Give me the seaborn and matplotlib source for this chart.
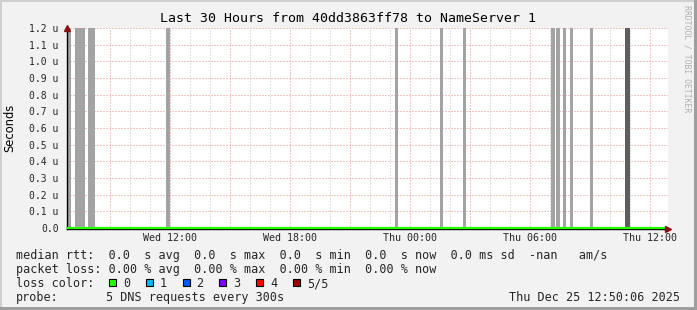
import matplotlib
matplotlib.use("Agg")
import matplotlib.pyplot as plt
import matplotlib.dates as mdates
import matplotlib.ticker as mticker
from matplotlib.patches import Rectangle
import pandas as pd
import seaborn as sns

# ---------------- data ----------------
title = "Last 30 Hours from 40dd3863ff78 to NameServer 1"
y_label = "Seconds"
watermark = "RRDTOOL / TOBI OETIKER"
t_start = "2025-12-24 06:52"
t_end = "2025-12-25 12:52"

gap_starts = ["2025-12-24 06:52", "2025-12-24 07:16", "2025-12-24 07:55",
              "2025-12-24 11:49", "2025-12-24 23:16", "2025-12-25 01:31",
              "2025-12-25 02:40", "2025-12-25 07:04", "2025-12-25 07:19",
              "2025-12-25 07:40", "2025-12-25 08:01", "2025-12-25 09:01",
              "2025-12-25 10:46"]
gap_ends = ["2025-12-24 07:04", "2025-12-24 07:46", "2025-12-24 08:16",
            "2025-12-24 12:01", "2025-12-24 23:25", "2025-12-25 01:40",
            "2025-12-25 02:49", "2025-12-25 07:16", "2025-12-25 07:31",
            "2025-12-25 07:49", "2025-12-25 08:10", "2025-12-25 09:10",
            "2025-12-25 11:01"]
gap_shades = ["light"] * 12 + ["dark"]
gap_top = 1.2e-6

median_times = ["2025-12-24 06:52", "2025-12-25 12:52"]
median_values = [0.0, 0.0]

y_tick_values = [0.0, 0.1e-6, 0.2e-6, 0.3e-6, 0.4e-6, 0.5e-6, 0.6e-6,
                 0.7e-6, 0.8e-6, 0.9e-6, 1.0e-6, 1.1e-6, 1.2e-6]
y_tick_labels = ["0.0", "0.1 u", "0.2 u", "0.3 u", "0.4 u", "0.5 u", "0.6 u",
                 "0.7 u", "0.8 u", "0.9 u", "1.0 u", "1.1 u", "1.2 u"]

x_tick_times = ["2025-12-24 12:00", "2025-12-24 18:00", "2025-12-25 00:00",
                "2025-12-25 06:00", "2025-12-25 12:00"]
x_tick_labels = ["Wed 12:00", "Wed 18:00", "Thu 00:00", "Thu 06:00", "Thu 12:00"]

legend_rtt = "median rtt:  0.0  s avg  0.0  s max  0.0  s min  0.0  s now  0.0 ms sd  -nan   am/s"
legend_loss = "packet loss: 0.00 % avg  0.00 % max  0.00 % min  0.00 % now"
loss_color_title = "loss color:"
loss_labels = ["0", "1", "2", "3", "4", "5/5"]
loss_colors = ["#26ff00", "#00b8ff", "#0059ff", "#7e00ff", "#ff0000", "#a10000"]
probe_title = "probe:"
probe_text = "5 DNS requests every 300s"
timestamp = "Thu Dec 25 12:50:06 2025"

# ---------------- style ----------------
W, H = 697, 310
sns.set_style("white")
MONO = "DejaVu Sans Mono"
plt.rcParams["font.family"] = ["DejaVu Sans"]

BG = "#f2f2f2"
RED_GRID = (0.92, 0.55, 0.55)
GRAY_GRID = (0.76, 0.76, 0.76)
ARROW = "#8a1010"
SHADE = {"light": "#a3a3a3", "dark": "#5e5e5e"}

fig = plt.figure(figsize=(W / 100, H / 100), dpi=100, facecolor=BG)


def fx(x):
    return x / W


def fy(y):
    return 1 - y / H


left, right, top, bottom = 67, 667.5, 28, 229
ax = fig.add_axes([fx(left), fy(bottom), (right - left) / W, (bottom - top) / H])
ax.set_facecolor("white")

ts = pd.to_datetime(pd.Series(gap_starts))
te = pd.to_datetime(pd.Series(gap_ends))
xs = mdates.date2num(ts)
xe = mdates.date2num(te)
for s, e, sh in zip(xs, xe, gap_shades):
    ax.bar(s, gap_top, width=e - s, align="edge", color=SHADE[sh],
           linewidth=0, zorder=2)

med = pd.DataFrame({"t": pd.to_datetime(pd.Series(median_times)), "v": median_values})
sns.lineplot(data=med, x="t", y="v", ax=ax, color="#26ff00", linewidth=1.6,
             zorder=5, clip_on=False)

px_y = 1.2e-6 / 200.0
ax.set_ylim(-px_y, 1.2e-6)
ax.set_xlim(mdates.date2num(pd.Timestamp(t_start)), mdates.date2num(pd.Timestamp(t_end)))

# grid
ax.xaxis.set_major_locator(mdates.HourLocator(byhour=range(0, 24, 3)))
ax.xaxis.set_minor_locator(mdates.HourLocator())
label_map = {round(mdates.date2num(pd.Timestamp(t)), 5): l
             for t, l in zip(x_tick_times, x_tick_labels)}
ax.xaxis.set_major_formatter(mticker.FuncFormatter(
    lambda v, p: label_map.get(round(v, 5), "")))
ax.yaxis.set_major_locator(mticker.FixedLocator(y_tick_values))
ax.yaxis.set_major_formatter(mticker.FixedFormatter(y_tick_labels))

ax.grid(which="minor", axis="x", color=GRAY_GRID, linestyle=(0, (1, 2)),
        linewidth=0.72, zorder=1)
ax.grid(which="major", axis="x", color=RED_GRID, linestyle=(0, (1, 2)),
        linewidth=0.72, zorder=1)
ax.grid(which="major", axis="y", color=RED_GRID, linestyle=(0, (1, 2)),
        linewidth=0.72, zorder=1)
ax.set_axisbelow(True)

for sp in ["top", "right"]:
    ax.spines[sp].set_visible(False)
for sp in ["left", "bottom"]:
    ax.spines[sp].set_color("black")
    ax.spines[sp].set_linewidth(1.0)
    ax.spines[sp].set_zorder(4)

ax.tick_params(axis="x", which="major", length=2.2, width=0.72, color="black",
               pad=0.8, labelsize=7.2, direction="out")
ax.tick_params(axis="x", which="minor", length=1.5, width=0.72, color="black",
               direction="out")
ax.tick_params(axis="y", which="major", length=0, pad=6, labelsize=7.05)
for lab in ax.get_xticklabels() + ax.get_yticklabels():
    lab.set_fontfamily(MONO)
ax.set_xlabel("")
ax.set_ylabel("")

# axis arrows
ax.plot([1.0], [0.0], marker=">", color=ARROW, markersize=4.5,
        transform=ax.transAxes, clip_on=False, zorder=6)
ax.plot([0.0], [1.0], marker="^", color=ARROW, markersize=4.5,
        transform=ax.transAxes, clip_on=False, zorder=6)

# texts
fig.text(fx(348.5), fy(19), title, family=MONO, fontsize=9.5,
         ha="center", va="center", color="black")
fig.text(fx(10), fy(128), y_label, fontsize=8.3, rotation=90,
         ha="center", va="center", color="black")
fig.text(fx(687), fy(5), watermark, family=MONO, fontsize=5.9, rotation=-90,
         ha="center", va="top", color="#b0b0b0")

rows = [254.5, 268.5, 282.3, 296]
LFS = 8.5
fig.text(fx(16), fy(rows[0]), legend_rtt, family=MONO, fontsize=LFS,
         ha="left", va="center_baseline")
fig.text(fx(16), fy(rows[1]), legend_loss, family=MONO, fontsize=LFS,
         ha="left", va="center_baseline")
fig.text(fx(16), fy(rows[2]), loss_color_title, family=MONO, fontsize=LFS,
         ha="left", va="center_baseline")
for i, (lab, col) in enumerate(zip(loss_labels, loss_colors)):
    x0 = 109 + i * 36.8
    fig.add_artist(Rectangle((fx(x0), fy(285.5)), 7 / W, 7 / H,
                             transform=fig.transFigure, facecolor=col,
                             edgecolor="black", linewidth=0.8))
    fig.text(fx(x0 + 14), fy(rows[2]), lab, family=MONO, fontsize=LFS,
             ha="left", va="center_baseline")
fig.text(fx(16), fy(rows[3]), probe_title, family=MONO, fontsize=LFS,
         ha="left", va="center_baseline")
fig.text(fx(106.5), fy(rows[3]), probe_text, family=MONO, fontsize=LFS,
         ha="left", va="center_baseline")
fig.text(fx(680), fy(rows[3]), timestamp, family=MONO, fontsize=LFS,
         ha="right", va="center_baseline")

# 3D frame
fig.add_artist(Rectangle((0, fy(2)), 1, 2 / H, transform=fig.transFigure,
                         facecolor="#cfcfcf", linewidth=0))
fig.add_artist(Rectangle((0, 0), 2 / W, 1, transform=fig.transFigure,
                         facecolor="#cfcfcf", linewidth=0))
fig.add_artist(Rectangle((0, 0), 1, 3 / H, transform=fig.transFigure,
                         facecolor="#9e9e9e", linewidth=0))
fig.add_artist(Rectangle((fx(W - 3), 0), 3 / W, 1, transform=fig.transFigure,
                         facecolor="#9e9e9e", linewidth=0))

fig.savefig("out.png", dpi=100, facecolor=BG)
